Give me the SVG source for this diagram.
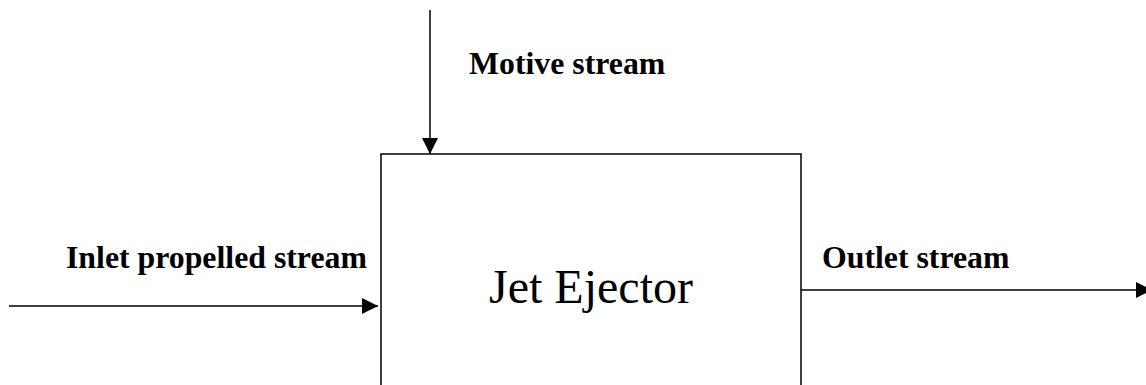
<svg xmlns="http://www.w3.org/2000/svg" width="1146" height="385" viewBox="0 0 1146 385">
  <style>
    .line { stroke: #000; stroke-width: 1.5; fill: none; }
    .box { stroke: #000; stroke-width: 1.5; fill: #fff; }
    .lbl { font-family: "Liberation Serif", "Times New Roman", serif; font-weight: bold; font-size: 31.8px; fill: #000; }
    .title { font-family: "Liberation Serif", "Times New Roman", serif; font-size: 48px; fill: #000; }
  </style>
  <defs>
    <marker id="arrow" markerWidth="16" markerHeight="16" viewBox="0 0 16 16" refX="16" refY="8" orient="auto" markerUnits="userSpaceOnUse">
      <path d="M0,0 L16,8 L0,16 Z" fill="#000"/>
    </marker>
  </defs>
  <rect width="1146" height="385" fill="#fff"/>
  <g id="node-ejector">
    <rect class="box" x="381" y="154" width="420" height="300"/>
    <text class="title" x="591" y="303" text-anchor="middle">Jet Ejector</text>
  </g>
  <g id="connectors">
    <line class="line" x1="430" y1="10" x2="430" y2="154" marker-end="url(#arrow)"/>
    <line class="line" x1="9" y1="306" x2="378" y2="306" marker-end="url(#arrow)"/>
    <line class="line" x1="801" y1="290" x2="1152" y2="290" marker-end="url(#arrow)"/>
  </g>
  <g id="labels">
    <text class="lbl" x="469" y="74">Motive stream</text>
    <text class="lbl" x="66" y="268">Inlet propelled stream</text>
    <text class="lbl" x="822" y="268">Outlet stream</text>
  </g>
</svg>
